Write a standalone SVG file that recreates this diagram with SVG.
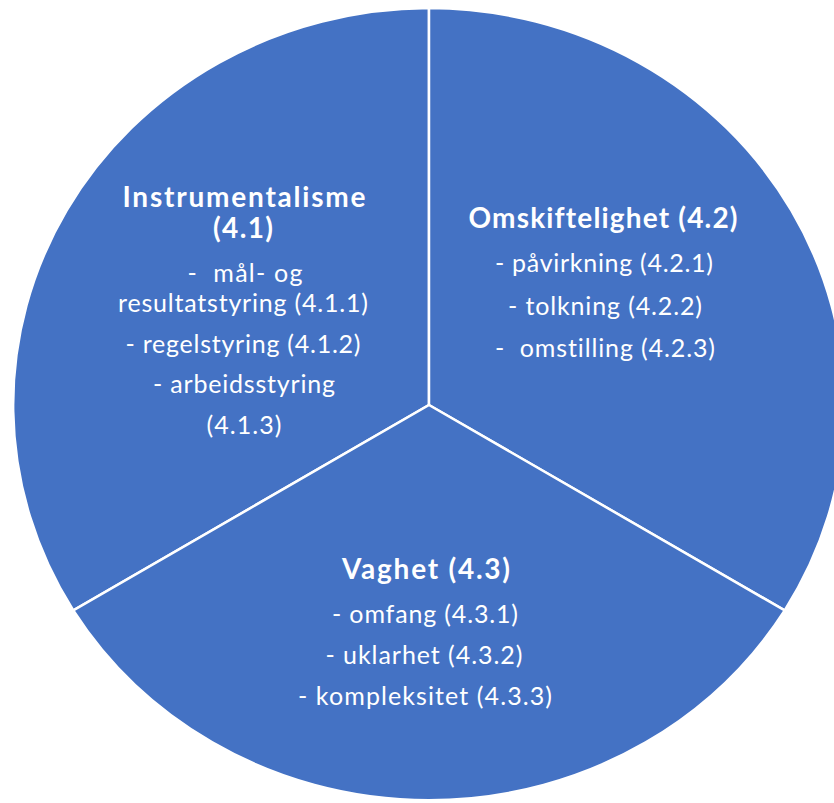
<svg xmlns="http://www.w3.org/2000/svg" width="834" height="803" viewBox="0 0 834 803">
<style>
.sec{fill:#4472C4;stroke:#FFFFFF;stroke-width:2.5;stroke-linejoin:miter}
text{font-family:"Gill Sans","Lato","Liberation Sans",sans-serif;fill:#FFFFFF;font-size:25px;text-anchor:middle;font-variant-ligatures:none}
.h{font-weight:bold;font-size:28px}
</style>
<rect width="834" height="803" fill="#FFFFFF"/>
<g id="sector-instrumentalisme">
<path class="sec" d="M429,405 L73.3,610.4 A417,397 0 0,1 429,8 Z"/>
<text class="h" x="244" y="207" textLength="243">Instrumentalisme</text>
<text class="h" x="243" y="238" textLength="60">(4.1)</text>
<text x="245" y="282" xml:space="preserve" textLength="115">-  mål- og</text>
<text x="243" y="312" textLength="250">resultatstyring (4.1.1)</text>
<text x="243" y="353" textLength="235">- regelstyring (4.1.2)</text>
<text x="244" y="393" textLength="182">- arbeidsstyring</text>
<text x="244" y="434" textLength="75">(4.1.3)</text>
</g>
<g id="sector-omskiftelighet">
<path class="sec" d="M429,405 L429,8 A417,397 0 0,1 784.7,610.4 Z"/>
<text class="h" x="603" y="228" textLength="269">Omskiftelighet (4.2)</text>
<text x="604" y="272" textLength="218">- påvirkning (4.2.1)</text>
<text x="605" y="315" textLength="194">- tolkning (4.2.2)</text>
<text x="605" y="357" xml:space="preserve" textLength="220">-  omstilling (4.2.3)</text>
</g>
<g id="sector-vaghet">
<path class="sec" d="M429,405 L784.7,610.4 A417,397 0 0,1 73.3,610.4 Z"/>
<text class="h" x="426" y="579" textLength="168">Vaghet (4.3)</text>
<text x="425" y="623" textLength="186">- omfang (4.3.1)</text>
<text x="424" y="664" textLength="197">- uklarhet (4.3.2)</text>
<text x="425" y="705" textLength="254">- kompleksitet (4.3.3)</text>
</g>
<g id="connectors"></g>
</svg>
